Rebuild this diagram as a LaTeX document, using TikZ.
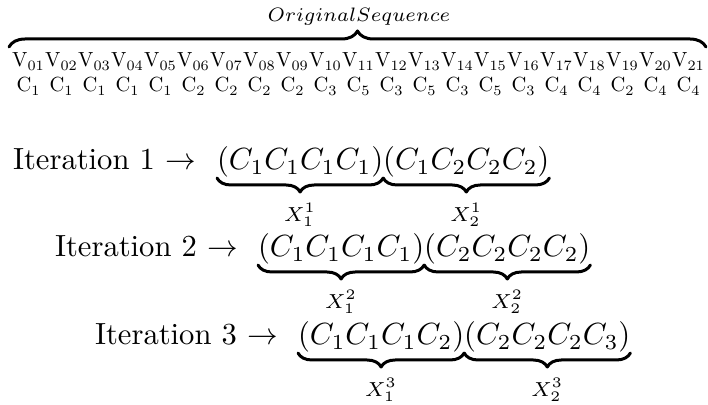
\documentclass[tikz,border=0pt]{standalone}
\usepackage{amsmath}
\usetikzlibrary{decorations.pathreplacing}
\tikzset{
  big/.style={scale=1.53, transform shape, inner sep=0pt, outer sep=0pt},
  small/.style={scale=1.022, transform shape, inner sep=0pt, outer sep=0pt},
  toplbl/.style={scale=1.39, transform shape, inner sep=0pt, outer sep=0pt},
  xlbl/.style={scale=1.45, transform shape, inner sep=0pt, outer sep=0pt},
  bracebase/.style={line width=1.5pt, line cap=round, line join=round, decorate},
  obrace/.style={bracebase, decoration={brace, amplitude=8pt, aspect=0.5}},
  ubrace/.style={bracebase, decoration={brace, mirror, amplitude=7pt, aspect=0.5}}
}
\begin{document}
\begin{tikzpicture}[x=0.5pt,y=-0.5pt]
\useasboundingbox (0,0) rectangle (708,405);
% label and overbrace
\node[toplbl,anchor=base] (title) at (359,21.5) {$\scriptstyle OriginalSequence$};
\coordinate (obL) at (9,47);
\coordinate (obR) at (706,47);
\draw[obrace] (obL) -- (obR);
% sequence
\foreach \c [count=\i] in {1,1,1,1,1,2,2,2,2,3,5,3,5,3,5,3,4,4,2,4,4} {
  \pgfmathsetmacro\xx{12+(\i-0.5)*33}
  \node[small,anchor=base] (v\i) at (\xx,67) {$\mathrm{V}_{\ifnum\i<10 0\fi\i}$};
  \node[small,anchor=base] (c\i) at (\xx,92) {$\mathrm{C}_{\c}$};
}
% iteration 1
\node[big,anchor=base west] (it1) at (13,170) {Iteration 1 $\rightarrow$};
\node[big,anchor=base west] (g11) at (217,170) {$(C_1C_1C_1C_1)$};
\node[big,anchor=base west] (g12) at (g11.base east) {$(C_1C_2C_2C_2)$};
% iteration 2
\node[big,anchor=base west] (it2) at (55,257) {Iteration 2 $\rightarrow$};
\node[big,anchor=base west] (g21) at (258,257) {$(C_1C_1C_1C_1)$};
\node[big,anchor=base west] (g22) at (g21.base east) {$(C_2C_2C_2C_2)$};
% iteration 3
\node[big,anchor=base west] (it3) at (95,345) {Iteration 3 $\rightarrow$};
\node[big,anchor=base west] (g31) at (298,345) {$(C_1C_1C_1C_2)$};
\node[big,anchor=base west] (g32) at (g31.base east) {$(C_2C_2C_2C_3)$};
% underbraces and their labels
\foreach \g/\lab in {g11/{X_1^1}, g12/{X_2^1}, g21/{X_1^2}, g22/{X_2^2}, g31/{X_1^3}, g32/{X_2^3}} {
  \draw[ubrace] ([yshift=-4pt]\g.base west) -- ([yshift=-4pt]\g.base east);
  \node[xlbl,anchor=north] (x\g) at ([yshift=-16.5pt]\g.base) {$\scriptstyle \lab$};
}
\end{tikzpicture}
\end{document}
